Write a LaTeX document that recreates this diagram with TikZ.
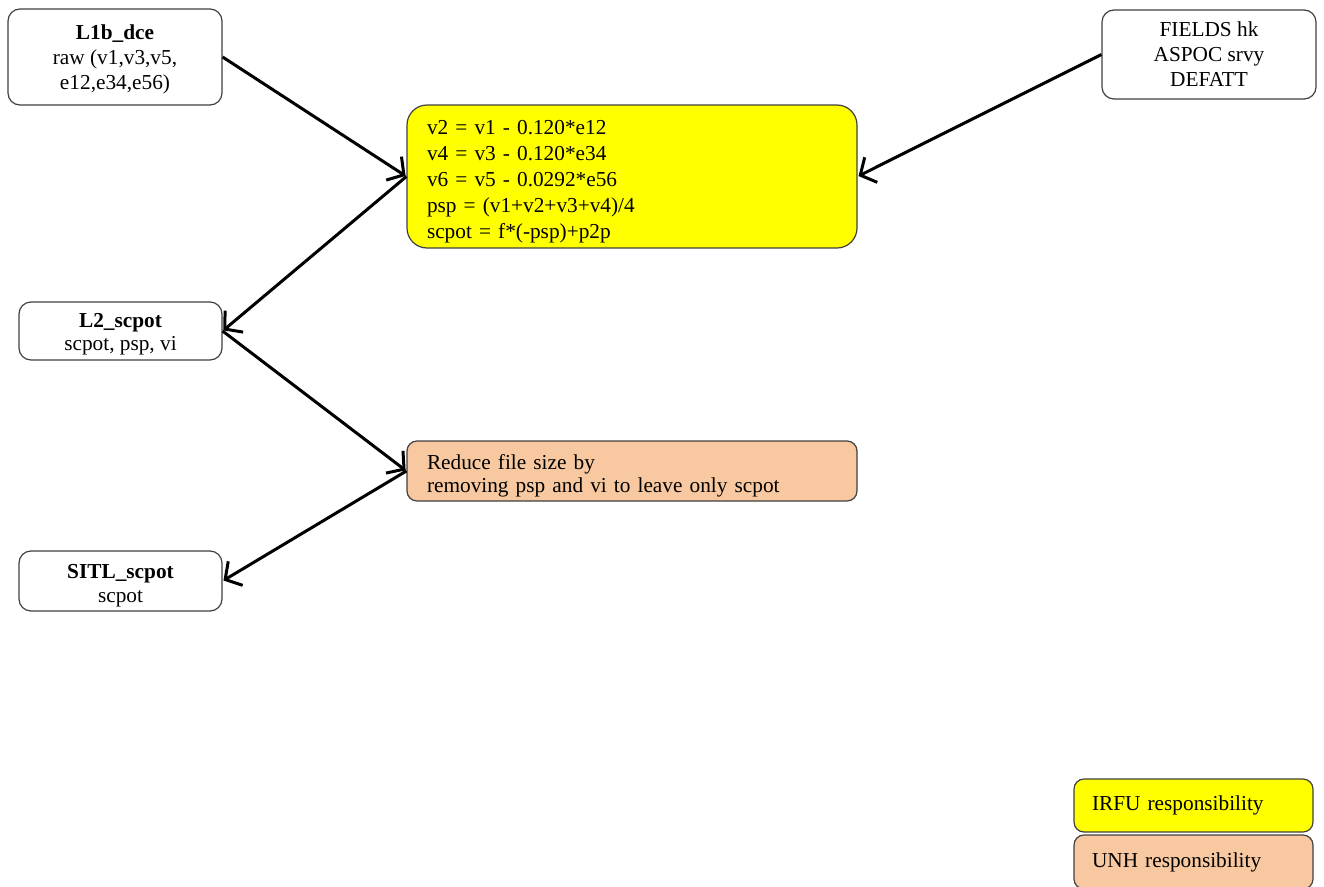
\documentclass[tikz,border=0pt]{standalone}
\usepackage{fontspec}
\setmainfont{Liberation Serif}
\usetikzlibrary{arrows.meta}
\definecolor{irfu}{HTML}{FFFF00}
\definecolor{unh}{HTML}{F8C8A0}
\definecolor{edge}{HTML}{404040}
\newcommand{\tsA}{\rule{0pt}{24.5pt}}
\newcommand{\tsB}{\rule{0pt}{20.5pt}}
\begin{document}
\begin{tikzpicture}[x=1pt,y=-1pt,
  box/.style={draw=edge, line width=1.2pt, rounded corners=12pt, inner sep=0pt,
    font=\fontsize{21.3}{25}\selectfont, align=center, fill=white},
  procbox/.style={box, rounded corners=20pt, align=left, inner xsep=20pt},
  conn/.style={line width=3pt, -{Straight Barb[length=12pt,width=28pt,line width=3pt]}, shorten >=1pt}
]
\useasboundingbox (0,0) rectangle (1324,886);
\node[box, minimum width=214pt, minimum height=96pt] (l1b) at (115,57)
  {\tsB\textbf{L1b\_dce}\\raw (v1,v3,v5,\\e12,e34,e56)};
\node[box, minimum width=214pt, minimum height=89pt] (fields) at (1209,54.5)
  {FIELDS hk\\ASPOC srvy\\DEFATT};
\node[procbox, fill=irfu, minimum width=450pt, minimum height=143pt, text width=410pt,
  font=\fontsize{21.3}{26}\selectfont] (calc) at (632,176.5)
  {\tsA v2 = v1 - 0.120*e12\\v4 = v3 - 0.120*e34\\v6 = v5 - 0.0292*e56\\psp = (v1+v2+v3+v4)/4\\scpot = f*(-psp)+p2p};
\node[box, minimum width=203pt, minimum height=58pt, font=\fontsize{21.3}{23.5}\selectfont] (l2) at (120.5,331)
  {\tsB\textbf{L2\_scpot}\\scpot, psp, vi};
\node[procbox, rounded corners=10pt, fill=unh, minimum width=450pt, minimum height=60pt, text width=410pt, font=\fontsize{21.3}{23.5}\selectfont] (reduce) at (632,471)
  {\tsA Reduce file size by\\removing psp and vi to leave only scpot};
\node[box, minimum width=203pt, minimum height=60pt, font=\fontsize{21.3}{24}\selectfont] (sitl) at (120.5,581)
  {\tsA\textbf{SITL\_scpot}\\scpot};
\node[procbox, rounded corners=10pt, fill=irfu, minimum width=239pt, minimum height=53pt, text width=203pt, inner xsep=18pt] (leg1) at (1193.5,805.5)
  {IRFU responsibility};
\node[procbox, rounded corners=10pt, fill=unh, minimum width=239pt, minimum height=54pt, text width=203pt, inner xsep=18pt] (leg2) at (1193.5,862)
  {UNH responsibility};
\draw[conn] (l1b.east) -- (calc.west);
\draw[conn] (fields.west) -- (calc.east);
\draw[conn] (calc.west) -- (l2.east);
\draw[conn] (l2.east) -- (reduce.west);
\draw[conn] (reduce.west) -- (sitl.east);
\end{tikzpicture}
\end{document}
